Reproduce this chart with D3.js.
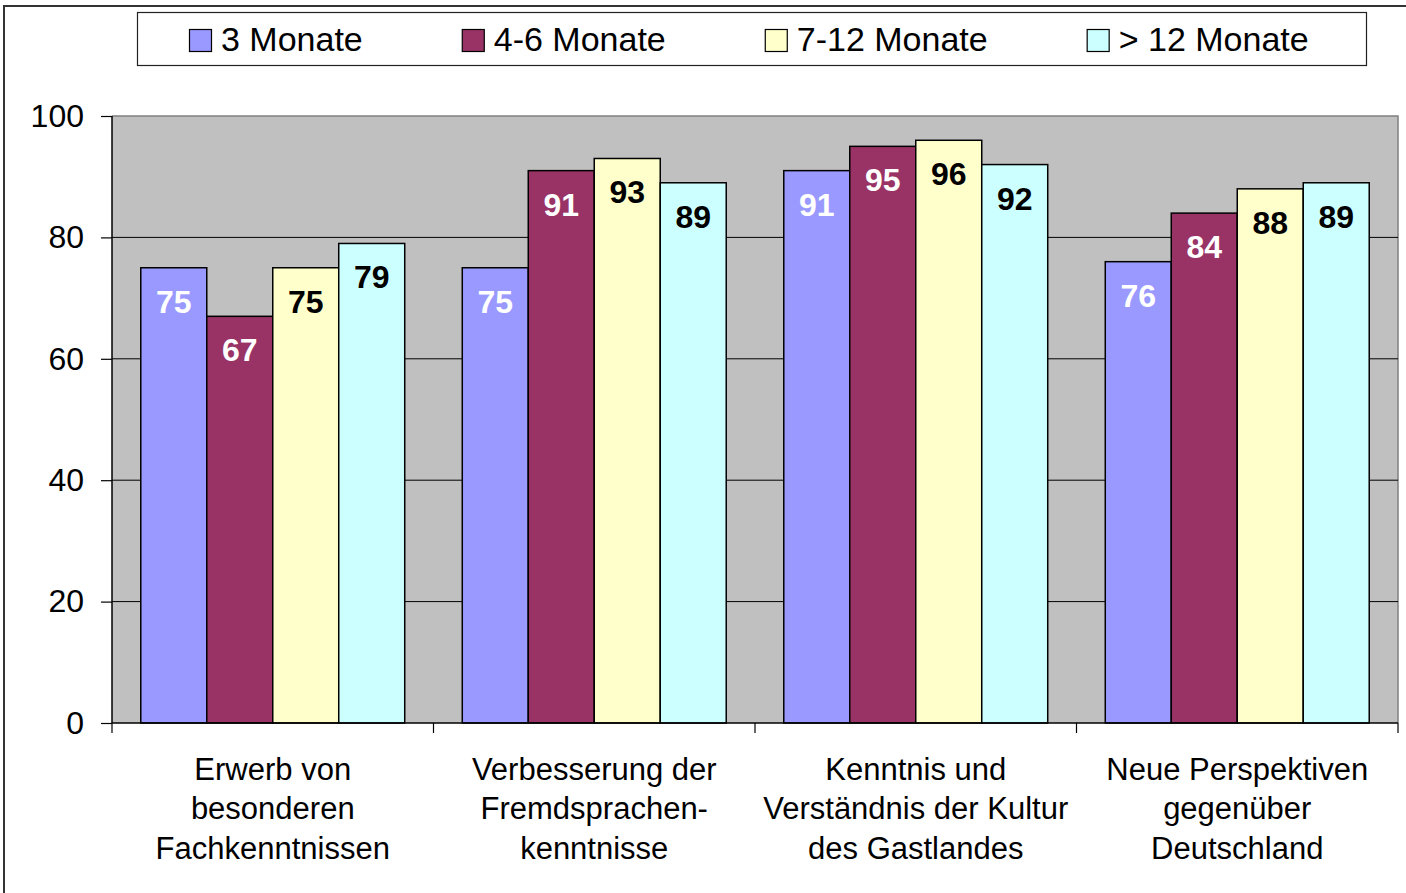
<!DOCTYPE html>
<html>
<head>
<meta charset="utf-8">
<script src="https://cdn.jsdelivr.net/npm/d3@7"></script>
<style>
  body { margin: 0; background: #fff; }
  svg text { font-family: "Liberation Sans", Arial, sans-serif; }
</style>
</head>
<body>
<svg id="chart" width="1406" height="893"></svg>
<script>
// data
var categories = [
  ["Erwerb von", "besonderen", "Fachkenntnissen"],
  ["Verbesserung der", "Fremdsprachen-", "kenntnisse"],
  ["Kenntnis und", "Verständnis der Kultur", "des Gastlandes"],
  ["Neue Perspektiven", "gegenüber", "Deutschland"]
];
var seriesNames = ["3 Monate", "4-6 Monate", "7-12 Monate", "> 12 Monate"];
var months3   = [75, 75, 91, 76];
var months4_6 = [67, 91, 95, 84];
var months7_12 = [75, 93, 96, 88];
var months12p = [79, 89, 92, 89];
var yTicks = [0, 20, 40, 60, 80, 100];

var series = [months3, months4_6, months7_12, months12p];
var colors = ["#9999ff", "#993366", "#ffffcc", "#ccffff"];
var labelColors = ["#fff", "#fff", "#000", "#000"];

var svg = d3.select("#chart");

// outer frame
svg.append("path")
  .attr("d", "M4,900 L4,6 L1410,6")
  .attr("fill", "none").attr("stroke", "#333").attr("stroke-width", 2);

// plot area bounds
var pLeft = 112, pRight = 1398, pTop = 116, pBottom = 723;

var x0 = d3.scaleBand().domain(d3.range(categories.length))
  .range([pLeft, pRight]).paddingInner(0).paddingOuter(0);
var x1 = d3.scaleBand().domain(d3.range(series.length))
  .range([0, x0.bandwidth()]).paddingOuter(0.436);
var y = d3.scaleLinear().domain([0, 100]).range([pBottom, pTop]);

// plot background
svg.append("rect")
  .attr("x", pLeft).attr("y", pTop)
  .attr("width", pRight - pLeft).attr("height", pBottom - pTop)
  .attr("fill", "#c0c0c0");
svg.append("path")
  .attr("d", "M" + pLeft + "," + pTop + " L" + pRight + "," + pTop + " L" + pRight + "," + pBottom)
  .attr("fill", "none").attr("stroke", "#808080").attr("stroke-width", 1.5);

// gridlines
svg.append("g").selectAll("line")
  .data(yTicks.filter(function (d) { return d > 0 && d < 100; }))
  .enter().append("line")
  .attr("x1", pLeft).attr("x2", pRight)
  .attr("y1", function (d) { return y(d); })
  .attr("y2", function (d) { return y(d); })
  .attr("stroke", "#000").attr("stroke-width", 1);

// bars
var groups = svg.append("g").selectAll("g")
  .data(categories).enter().append("g")
  .attr("transform", function (d, i) { return "translate(" + x0(i) + ",0)"; });

function cells(d, i) {
  return series.map(function (s, k) { return { k: k, v: s[i] }; });
}

groups.selectAll("rect")
  .data(cells)
  .enter().append("rect")
  .attr("x", function (d) { return x1(d.k); })
  .attr("width", x1.bandwidth())
  .attr("y", function (d) { return y(d.v); })
  .attr("height", function (d) { return y(0) - y(d.v); })
  .attr("fill", function (d) { return colors[d.k]; })
  .attr("stroke", "#000").attr("stroke-width", 1.5);

groups.selectAll("text.val")
  .data(cells)
  .enter().append("text")
  .attr("class", "val")
  .attr("x", function (d) { return x1(d.k) + x1.bandwidth() / 2; })
  .attr("y", function (d) { return y(d.v) + 45; })
  .attr("text-anchor", "middle")
  .attr("font-size", 32).attr("font-weight", "bold")
  .attr("fill", function (d) { return labelColors[d.k]; })
  .text(function (d) { return d.v; });

// y axis
var yAxis = svg.append("g")
  .attr("transform", "translate(" + pLeft + ",0)")
  .call(d3.axisLeft(y).tickValues(yTicks).tickSize(11).tickPadding(17));
yAxis.select(".domain").attr("stroke", "#000").attr("stroke-width", 1.5)
  .attr("d", "M0," + pTop + "V" + pBottom);
yAxis.selectAll(".tick line").attr("stroke", "#000").attr("stroke-width", 1.2);
yAxis.selectAll(".tick text")
  .attr("font-size", 32).attr("fill", "#000")
  .attr("font-family", "Liberation Sans, Arial, sans-serif");

// x axis
var xb = x0.domain().map(function (i) { return x0(i); }).concat([pRight]);
var xAxis = svg.append("g");
xAxis.append("line")
  .attr("x1", pLeft).attr("x2", pRight).attr("y1", pBottom).attr("y2", pBottom)
  .attr("stroke", "#000").attr("stroke-width", 1.5);
xAxis.selectAll("line.tk").data(xb).enter().append("line")
  .attr("class", "tk")
  .attr("x1", function (d) { return d; }).attr("x2", function (d) { return d; })
  .attr("y1", pBottom).attr("y2", pBottom + 10)
  .attr("stroke", "#000").attr("stroke-width", 1.2);

var catText = xAxis.selectAll("text.cat").data(categories).enter().append("text")
  .attr("class", "cat")
  .attr("x", function (d, i) { return x0(i) + x0.bandwidth() / 2; })
  .attr("y", 780)
  .attr("text-anchor", "middle")
  .attr("font-size", 31).attr("fill", "#000");
catText.selectAll("tspan").data(function (d) { return d; }).enter().append("tspan")
  .attr("x", function () { return this.parentNode.getAttribute("x"); })
  .attr("dy", function (d, j) { return j === 0 ? 0 : 39.3; })
  .text(function (d) { return d; });

// legend
svg.append("rect")
  .attr("x", 137.5).attr("y", 12.5).attr("width", 1229).attr("height", 53)
  .attr("fill", "#fff").attr("stroke", "#222").attr("stroke-width", 1.2);

var lx = 189;
seriesNames.forEach(function (name, k) {
  svg.append("rect")
    .attr("x", lx + 0.5).attr("y", 29.5).attr("width", 22).attr("height", 22)
    .attr("fill", colors[k]).attr("stroke", "#000").attr("stroke-width", 1.2);
  var t = svg.append("text")
    .attr("x", lx + 32).attr("y", 51)
    .attr("font-size", 34).attr("fill", "#000")
    .text(name);
  lx = lx + 32 + t.node().getComputedTextLength() + 99;
});
</script>
</body>
</html>
